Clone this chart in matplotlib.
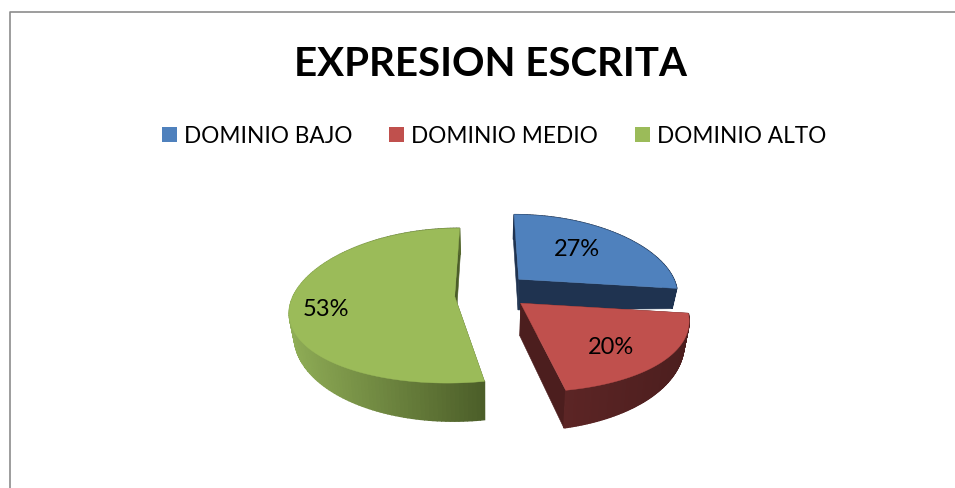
import numpy as np
import matplotlib
matplotlib.use("Agg")
import matplotlib.pyplot as plt
from matplotlib.colors import to_rgb
from matplotlib.patches import Patch

titulo = "EXPRESION ESCRITA"
categorias = ["DOMINIO BAJO", "DOMINIO MEDIO", "DOMINIO ALTO"]
valores = [27, 20, 53]

colores = ["#4f81bd", "#c0504d", "#9bbb59"]
lado_claro = ["#1f3350", "#5c2525", "#8fad56"]
lado_oscuro = ["#1f3350", "#4c1e1e", "#4c5e29"]
# desplazamiento de cada trozo (fraccion del radio) y donde va la etiqueta
explode = [(0.205, -0.16), (0.205, 0.16), (-0.20, 0.07)]
pos_etiqueta = [(577, 250), (611, 347), (326, 309)]

plt.rcParams["font.family"] = ["Lato", "DejaVu Sans"]

# geometria del pastel en pixeles
CX, CY = 487, 292
RX, RY = 159.5, 75
PX, PY = 0.18, 0.12


def proyectar(u, v):
    # u a la derecha, v hacia delante, en unidades del radio
    x = CX + u * RX / (1 - PX * v)
    y = CY + v * RY / (1 - PY * v)
    return x, y


def fondo(x, y, u, v):
    # grosor del pastel, algo mayor delante que a los lados
    d = 32 + 6 * v - 8 * u ** 2
    return CX + (x - CX) * 0.975, y + d


def mezcla(c1, c2, f):
    a, b = np.array(to_rgb(c1)), np.array(to_rgb(c2))
    return tuple(a + (b - a) * f)


fig = plt.figure(figsize=(9.55, 4.89), dpi=100)
ax = fig.add_axes([0, 0, 1, 1])
ax.set_xlim(0, 955)
ax.set_ylim(489, 0)
ax.axis("off")

# marco gris, solo arriba e izquierda
ax.plot([955, 9.5, 9.5], [12.5, 12.5, 489], color="#8c8c8c", lw=1.2)

ax.text(490, 65, titulo, ha="center", va="center", fontsize=29, fontweight="bold", color="black")

inicio = 0
for i, valor in enumerate(valores):
    fin = inicio + valor / sum(valores) * 2 * np.pi
    t = np.linspace(inicio, fin, 150)
    ox, oy = explode[i]
    u = ox + np.sin(t)
    v = oy - np.cos(t)
    x, y = proyectar(u, v)
    xb, yb = fondo(x, y, u, v)
    x0, y0 = proyectar(ox, oy)
    xb0, yb0 = fondo(x0, y0, ox, oy)

    # caras interiores
    ax.fill([x0, x[0], xb[0], xb0], [y0, y[0], yb[0], yb0], color=lado_oscuro[i], lw=0.4, zorder=2 + i * 3)
    ax.fill([x0, x[-1], xb[-1], xb0], [y0, y[-1], yb[-1], yb0], color=lado_oscuro[i], lw=0.4, zorder=2 + i * 3)

    # lado exterior con degradado
    for j in range(len(t) - 1):
        f = (x[j] - x.min()) / (x.max() - x.min())
        c = mezcla(lado_claro[i], lado_oscuro[i], f)
        ax.fill([x[j], x[j + 1], xb[j + 1], xb[j]], [y[j], y[j + 1], yb[j + 1], yb[j]],
                color=c, lw=1.0, zorder=3 + i * 3)

    # cara de arriba
    ax.fill(np.r_[x0, x], np.r_[y0, y], color=colores[i], lw=0.3, zorder=4 + i * 3)
    ax.text(pos_etiqueta[i][0], pos_etiqueta[i][1], f"{valor}%", ha="center", va="center",
            fontsize=17, color="black", zorder=20)
    inicio = fin

handles = [Patch(facecolor=c, edgecolor="none", label=n) for c, n in zip(colores, categorias)]
ax.legend(handles=handles, ncol=3, frameon=False, fontsize=16.3, loc="center",
          bbox_to_anchor=(494 / 955, 1 - 137 / 489), handlelength=0.65, handleheight=0.65,
          handletextpad=0.3, columnspacing=1.65, borderpad=0, labelcolor="black")

fig.savefig("out.png", dpi=100)
